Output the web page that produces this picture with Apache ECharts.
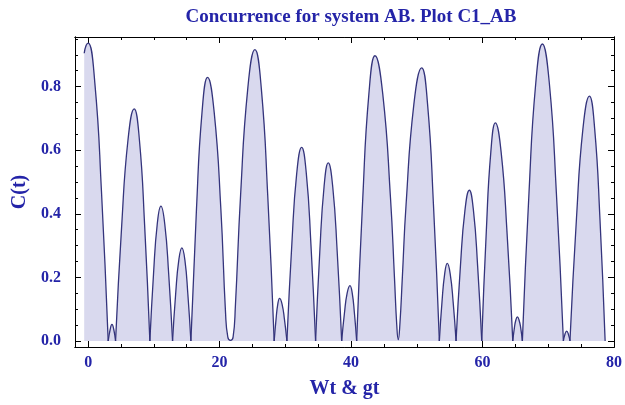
<!DOCTYPE html>
<html>
<head>
<meta charset="utf-8">
<script src="https://cdn.jsdelivr.net/npm/echarts@6/dist/echarts.min.js"></script>
<style>html,body{margin:0;padding:0;background:#fff;}#chart{width:625px;height:405px;}</style>
</head>
<body>
<div id="chart"></div>
<script>
// Curve samples (Wt & gt -> C(t))
const tValues = [
  -0.6, -0.3, 0, 1.02, 2.03, 3.05,
  3.35, 3.62, 3.9, 4.17,
  5.11, 6.06, 7.0, 7.8, 8.59, 9.39,
  9.95, 10.51, 11.07, 11.66, 12.25, 12.84,
  13.31, 13.79, 14.26, 14.72, 15.17, 15.63,
  16.48, 17.32, 18.17, 19.18, 20.19, 20.9, 21.25, 21.65, 22.05, 22.4,
  23.19, 24.28, 25.37, 26.35, 27.32, 28.3,
  28.58, 28.85, 29.13, 29.5, 29.87, 30.24,
  30.99, 31.73, 32.48, 33.19, 33.89, 34.6,
  35.24, 35.89, 36.53, 37.21, 37.89, 38.57,
  38.99, 39.41, 39.83, 40.17, 40.51, 40.85,
  41.78, 42.71, 43.64, 44.82, 46.0, 46.6, 46.95, 47.18, 47.42, 47.8,
  48.37, 49.55, 50.74, 51.64, 52.53, 53.43,
  53.83, 54.24, 54.64, 55.08, 55.53, 55.97,
  56.64, 57.32, 57.99, 58.62, 59.25, 59.88,
  60.57, 61.26, 61.95, 62.83, 63.72, 64.6,
  64.85, 65.07, 65.3, 65.55, 65.8, 66.06,
  67.07, 68.09, 69.1, 70.17, 71.23, 72.3,
  72.55, 72.8, 73.05, 73.3,
  74.29, 75.27, 76.26, 77.06, 77.86, 78.65
];
const cValues = [
  0.905, 0.93, 0.937, 0.811, 0.469, 0,
  0.036, 0.052, 0.036, 0,
  0.365, 0.632, 0.73, 0.632, 0.365, 0,
  0.212, 0.367, 0.424, 0.367, 0.212, 0,
  0.147, 0.254, 0.293, 0.254, 0.147, 0,
  0.415, 0.718, 0.829, 0.718, 0.415, 0.09, 0.012, 0.002, 0.012, 0.11,
  0.458, 0.793, 0.916, 0.793, 0.458, 0,
  0.067, 0.116, 0.134, 0.116, 0.067, 0,
  0.305, 0.527, 0.609, 0.527, 0.305, 0,
  0.28, 0.485, 0.56, 0.485, 0.28, 0,
  0.087, 0.151, 0.174, 0.151, 0.087, 0,
  0.449, 0.777, 0.897, 0.777, 0.449, 0.2, 0.05, 0.004, 0.05, 0.2,
  0.43, 0.744, 0.859, 0.744, 0.43, 0,
  0.122, 0.211, 0.244, 0.211, 0.122, 0,
  0.237, 0.41, 0.474, 0.41, 0.237, 0,
  0.343, 0.594, 0.686, 0.594, 0.343, 0,
  0.042, 0.066, 0.076, 0.066, 0.042, 0,
  0.467, 0.809, 0.934, 0.809, 0.467, 0,
  0.022, 0.031, 0.022, 0,
  0.385, 0.667, 0.77, 0.667, 0.385, 0
];
const xMajorTicks = [0, 20, 40, 60, 80];
const xMinorTicks = [5, 10, 15, 25, 30, 35, 45, 50, 55, 65, 70, 75];
const yMajorTicks = [0, 0.2, 0.4, 0.6, 0.8];
const yMinorTicks = [0.05, 0.1, 0.15, 0.25, 0.3, 0.35, 0.45, 0.5, 0.55, 0.65, 0.7, 0.75, 0.85, 0.9, 0.95];

const titleText = 'Concurrence for system AB. Plot C1_AB';
const xName = 'Wt & gt';
const yName = 'C(t)';

const serif = "'Liberation Serif', 'Times New Roman', serif";
const blue = '#2424a8';
const lineColor = '#34347c';
const fillColor = '#d9d9ee';

// split the curve into arches at its zeros (cusps)
const arches = [];
let cur = [];
for (let i = 0; i < tValues.length; i++) {
  cur.push([tValues[i], cValues[i]]);
  if (cValues[i] === 0 && cur.length > 1) {
    arches.push(cur);
    cur = [[tValues[i], cValues[i]]];
  }
}
if (cur.length > 1) arches.push(cur);

const X_MIN = -2, X_MAX = 80, Y_MIN = -0.019, Y_MAX = 0.956;

function xAxisDef(pos, ticks, len, withLabel) {
  return {
    type: 'value', min: X_MIN, max: X_MAX, position: pos,
    axisLine: { show: true, onZero: false, lineStyle: { color: '#000', width: 1 } },
    axisTick: { show: true, inside: true, length: len, customValues: ticks, lineStyle: { color: '#000', width: 1 } },
    axisLabel: withLabel ? { show: true, customValues: ticks, margin: 8, color: blue, fontFamily: serif, fontWeight: 'bold', fontSize: 16 } : { show: false },
    splitLine: { show: false },
    name: withLabel ? xName : '',
    nameLocation: 'middle', nameGap: 32,
    nameTextStyle: { color: blue, fontFamily: serif, fontWeight: 'bold', fontSize: 20 }
  };
}
function yAxisDef(pos, ticks, len, withLabel) {
  return {
    type: 'value', min: Y_MIN, max: Y_MAX, position: pos,
    axisLine: { show: true, onZero: false, lineStyle: { color: '#000', width: 1 } },
    axisTick: { show: true, inside: true, length: len, customValues: ticks, lineStyle: { color: '#000', width: 1 } },
    axisLabel: withLabel ? { show: true, customValues: ticks, margin: 14, color: blue, fontFamily: serif, fontWeight: 'bold', fontSize: 16, formatter: v => v.toFixed(1) } : { show: false },
    splitLine: { show: false },
    name: withLabel ? yName : '',
    nameLocation: 'middle', nameGap: 43, nameRotate: 90,
    nameTextStyle: { color: blue, fontFamily: serif, fontWeight: 'bold', fontSize: 20 }
  };
}

const chart = echarts.init(document.getElementById('chart'), null, { renderer: 'canvas' });
chart.setOption({
  animation: false,
  backgroundColor: '#fff',
  title: {
    text: titleText, left: 346, top: 3, textAlign: 'center',
    textStyle: { color: blue, fontFamily: serif, fontWeight: 'bold', fontSize: 19 }
  },
  grid: { left: 75, right: 11, top: 37, bottom: 58, containLabel: false },
  xAxis: [
    xAxisDef('bottom', xMajorTicks, 6, true),
    xAxisDef('bottom', xMinorTicks, 3, false),
    xAxisDef('top', xMajorTicks, 6, false),
    xAxisDef('top', xMinorTicks, 3, false)
  ],
  yAxis: [
    yAxisDef('left', yMajorTicks, 6, true),
    yAxisDef('left', yMinorTicks, 3, false),
    yAxisDef('right', yMajorTicks, 6, false),
    yAxisDef('right', yMinorTicks, 3, false)
  ],
  series: arches.map(a => ({
    type: 'line', xAxisIndex: 0, yAxisIndex: 0,
    data: a, smooth: 0.5, showSymbol: false, symbol: 'none',
    lineStyle: { color: lineColor, width: 1.3 },
    areaStyle: { color: fillColor, opacity: 1 },
    silent: true
  }))
});
</script>
</body>
</html>
